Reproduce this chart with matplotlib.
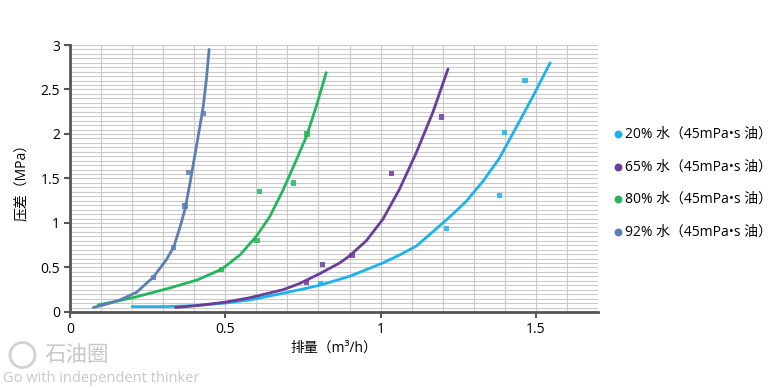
import matplotlib
matplotlib.use("Agg")
import matplotlib.pyplot as plt
from matplotlib.ticker import MultipleLocator
from matplotlib.patches import Ellipse

plt.rcParams['font.family'] = ['Open Sans', 'Noto Sans CJK SC', 'DejaVu Sans']

# 图例标签
labels = ['20% 水（45mPa•s 油）', '65% 水（45mPa•s 油）',
          '80% 水（45mPa•s 油）', '92% 水（45mPa•s 油）']
colors = ['#1db2ec', '#6a3d9a', '#25b55c', '#5b7fb4']

# 实测点 (排量, 压差)
x20 = [0.806, 1.212, 1.383, 1.40, 1.465]
y20 = [0.32, 0.94, 1.31, 2.02, 2.60]
x65 = [0.761, 0.812, 0.908, 1.034, 1.197]
y65 = [0.33, 0.53, 0.63, 1.56, 2.19]
x80 = [0.488, 0.602, 0.609, 0.720, 0.763]
y80 = [0.48, 0.80, 1.35, 1.45, 2.0]
x92 = [0.268, 0.334, 0.370, 0.383, 0.429]
y92 = [0.39, 0.72, 1.19, 1.57, 2.23]

# 趋势线
cx20 = [0.2, 0.3, 0.4, 0.5, 0.579, 0.686, 0.74, 0.804, 0.9, 1.007, 1.061, 1.115,
        1.168, 1.22, 1.275, 1.33, 1.383, 1.436, 1.49, 1.546]
cy20 = [0.06, 0.06, 0.07, 0.10, 0.135, 0.21, 0.25, 0.30, 0.40, 0.55, 0.64, 0.74,
        0.90, 1.06, 1.24, 1.47, 1.73, 2.07, 2.42, 2.80]
cx65 = [0.34, 0.418, 0.5, 0.579, 0.686, 0.74, 0.804, 0.868, 0.90, 0.954, 1.007,
        1.061, 1.115, 1.168, 1.217]
cy65 = [0.05, 0.075, 0.11, 0.16, 0.25, 0.32, 0.43, 0.55, 0.63, 0.80, 1.04,
        1.38, 1.79, 2.24, 2.73]
cx80 = [0.091, 0.15, 0.214, 0.322, 0.41, 0.488, 0.547, 0.60, 0.643, 0.686,
        0.729, 0.761, 0.793, 0.825]
cy80 = [0.08, 0.12, 0.17, 0.27, 0.36, 0.48, 0.64, 0.85, 1.07, 1.37,
        1.71, 1.97, 2.31, 2.69]
cx92 = [0.075, 0.12, 0.161, 0.214, 0.268, 0.311, 0.334, 0.354, 0.370, 0.386,
        0.402, 0.418, 0.429, 0.439, 0.448]
cy92 = [0.05, 0.09, 0.135, 0.22, 0.39, 0.59, 0.73, 0.95, 1.15, 1.44,
        1.76, 2.08, 2.31, 2.61, 2.95]

pts = [(x20, y20), (x65, y65), (x80, y80), (x92, y92)]
curves = [(cx20, cy20), (cx65, cy65), (cx80, cy80), (cx92, cy92)]

fig = plt.figure(figsize=(7.75, 3.88), dpi=100)
ax = fig.add_axes([0.0903, 0.196, 0.6813, 0.688])

handles = []
for (px, py), (lx, ly), c, lab in zip(pts, curves, colors, labels):
    ax.plot(lx, ly, color=c, lw=2, zorder=3, solid_capstyle='round',
            solid_joinstyle='round')
    ax.scatter(px, py, s=14, marker='s', color=c, alpha=0.85, zorder=4,
               edgecolors='none')
    handles.append(ax.scatter([], [], s=22, color=c, label=lab))

ax.set_xlim(0, 1.7)
ax.set_ylim(0, 3)
ax.xaxis.set_minor_locator(MultipleLocator(0.1))
ax.yaxis.set_minor_locator(MultipleLocator(0.05))
ax.set_xticks([0, 0.5, 1, 1.5])
ax.set_xticklabels(['0', '0.5', '1', '1.5'])
ax.set_yticks([0, 0.5, 1, 1.5, 2, 2.5, 3])
ax.set_yticklabels(['0', '0.5', '1', '1.5', '2', '2.5', '3'])
ax.grid(which='both', color='#c9c9c9', lw=0.8)
ax.set_axisbelow(True)
ax.tick_params(which='minor', length=0)
ax.tick_params(which='major', length=4, width=1.5, color='#555555',
               labelsize=10, pad=3)
for s in ['top', 'right']:
    ax.spines[s].set_visible(False)
for s in ['left', 'bottom']:
    ax.spines[s].set_color('#555555')
    ax.spines[s].set_linewidth(2)

ax.set_xlabel('排量（m³/h）', fontsize=10, labelpad=3)
ax.set_ylabel('压差（MPa）', fontsize=10, labelpad=8)

fig.legend(handles=handles, loc='center left', bbox_to_anchor=(0.778, 0.528),
           frameon=False, fontsize=10, handletextpad=0.1, labelspacing=1.25,
           handlelength=0.8, borderpad=0.2)

# 水印
fig.patches.append(Ellipse((0.029, 0.085), 25 / 775, 25 / 388,
                           transform=fig.transFigure, fill=False,
                           ec='#d2d2d2', lw=2))
fig.text(0.058, 0.07, '石油圈', fontsize=15.5, color='#c8c8c8')
fig.text(0.004, 0.015, 'Go with independent thinker', fontsize=10.5,
         color='#c8c8c8')

fig.savefig('out.png', dpi=100)
